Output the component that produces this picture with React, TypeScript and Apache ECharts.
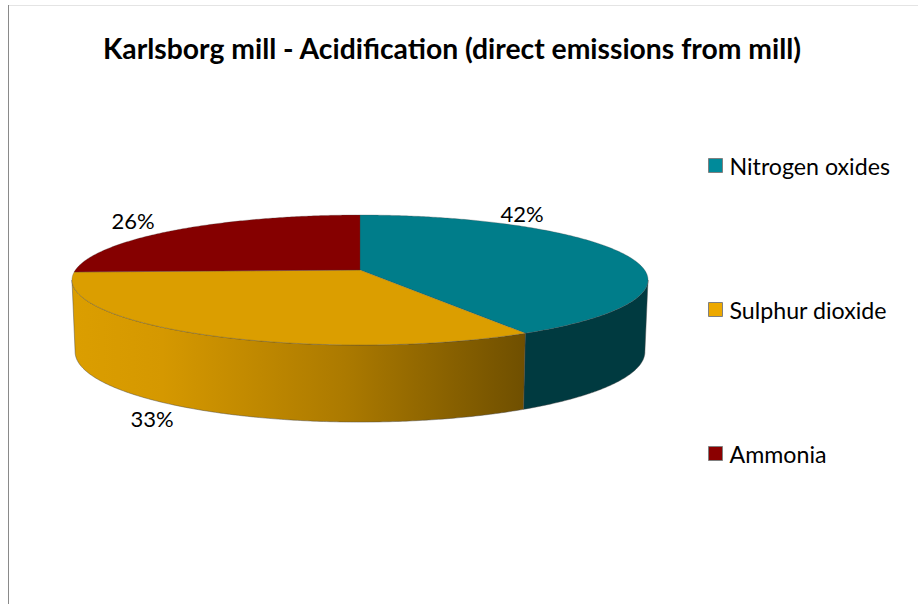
import React, { useEffect, useRef } from "react";
import * as echarts from "echarts";

const titleText = "Karlsborg mill - Acidification (direct emissions from mill)";
const categories = ["Nitrogen oxides", "Sulphur dioxide", "Ammonia"];
const shares = [41.6, 32.9, 25.5];
const topColors = ["#007D8A", "#DB9E00", "#850000"];
const legendColors = ["#008A9A", "#EDA900", "#8B0000"];

const FONT = "Lato, Carlito, Calibri, sans-serif";
const cx = 360;
const persp = 0.1538;
const top = { cy: 270, rx: 284.6, ry: 63.46 };
const bottom = { cy: 341, rx: 281.5, ry: 68.6 };
const labelSpots = [
  [522, 213],
  [152, 418],
  [133, 220],
];

function project(e: { cy: number; rx: number; ry: number }, theta: number) {
  const u = Math.sin(theta);
  const v = -Math.cos(theta);
  const s = 1 / (1 - persp * v);
  return [cx + e.rx * u * s, e.cy + e.ry * v * s];
}

function arc(e: { cy: number; rx: number; ry: number }, a: number, b: number) {
  const pts: number[][] = [];
  const n = Math.max(2, Math.ceil(Math.abs(b - a) / 0.01));
  for (let i = 0; i <= n; i++) pts.push(project(e, a + ((b - a) * i) / n));
  return pts;
}

const total = shares.reduce((p, c) => p + c, 0);
const wallFrom = Math.PI - Math.acos(persp);
const wallTo = Math.PI + Math.acos(persp);

function wallFill(index: number) {
  if (index === 0) return "#003A40";
  return new echarts.graphic.LinearGradient(0, 0, 1, 0, [
    { offset: 0, color: "#DB9E00" },
    { offset: 0.2, color: "#D59800" },
    { offset: 0.6, color: "#AC7A00" },
    { offset: 1, color: "#6F4F00" },
  ]);
}

function sliceRenderer(index: number) {
  return (_params: any, api: any) => {
    const value = api.value(0);
    const before = shares.slice(0, index).reduce((p, c) => p + c, 0);
    const a = (before / total) * Math.PI * 2;
    const b = a + (value / total) * Math.PI * 2;
    const children: any[] = [];
    const wa = Math.max(a, wallFrom);
    const wb = Math.min(b, wallTo);
    const edge = { stroke: "rgba(70,70,70,0.75)", lineWidth: 0.6 };
    if (wb > wa) {
      children.push({
        type: "polygon",
        shape: { points: [...arc(top, wa, wb), ...arc(bottom, wb, wa)] },
        style: { fill: wallFill(index), ...edge },
      });
    }
    children.push({
      type: "polygon",
      shape: { points: [[cx, top.cy], ...arc(top, a, b)] },
      style: { fill: topColors[index], stroke: "rgba(70,70,70,0.55)", lineWidth: 0.5 },
    });
    children.push({
      type: "text",
      x: labelSpots[index][0],
      y: labelSpots[index][1],
      style: {
        text: `${Math.round((value / total) * 100)}%`,
        fontFamily: FONT,
        fontSize: 22,
        fill: "#000000",
        align: "center",
        verticalAlign: "middle",
      },
    });
    return { type: "group", children };
  };
}

export default function App() {
  const ref = useRef<HTMLDivElement>(null);
  useEffect(() => {
    if (!ref.current) return;
    const chart = echarts.init(ref.current, undefined, { renderer: "svg" });
    chart.setOption({
      animation: false,
      backgroundColor: "#ffffff",
      title: {
        text: titleText,
        left: 103,
        top: 34,
        padding: 0,
        textStyle: { fontFamily: FONT, fontSize: 28.3, fontWeight: "bold", color: "#000000" },
      },
      legend: {
        orient: "vertical",
        left: 708,
        top: 154,
        padding: 0,
        itemWidth: 14,
        itemHeight: 14,
        itemGap: 121,
        itemStyle: { borderColor: "#808080", borderWidth: 1 },
        textStyle: { fontFamily: FONT, fontSize: 23.2, color: "#000000", padding: [0, 0, 0, 2] },
        data: categories.map((name, i) => ({
          name,
          icon: "rect",
          itemStyle: { color: legendColors[i], borderColor: "#808080", borderWidth: 1 },
        })),
      },
      graphic: [
        { type: "line", shape: { x1: 8.5, y1: 5, x2: 8.5, y2: 604 }, style: { stroke: "#8a8a8a", lineWidth: 1 } },
        { type: "line", shape: { x1: 9, y1: 5.5, x2: 918, y2: 5.5 }, style: { stroke: "#e4e4e4", lineWidth: 1 } },
      ],
      series: categories.map((name, i) => ({
        type: "custom",
        name,
        coordinateSystem: "none",
        silent: true,
        itemStyle: { color: topColors[i] },
        data: [[shares[i]]],
        renderItem: sliceRenderer(i),
      })),
    });
    return () => chart.dispose();
  }, []);
  return (
    <div
      ref={ref}
      style={{ position: "absolute", left: 0, top: 0, width: 918, height: 604 }}
    />
  );
}
